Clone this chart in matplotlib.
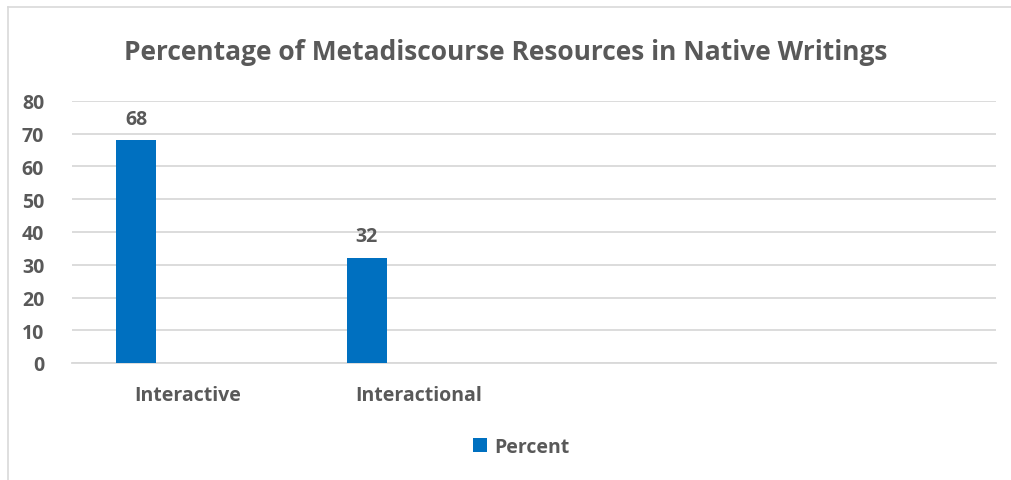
import matplotlib
matplotlib.use("Agg")
import matplotlib.pyplot as plt
from matplotlib.lines import Line2D
import numpy as np

# data
categories = ['Interactive', 'Interactional', '', '']
percent = [68, 32, np.nan, np.nan]
y_ticks = [0, 10, 20, 30, 40, 50, 60, 70, 80]

plt.rcParams['font.family'] = ['Open Sans', 'DejaVu Sans']
text_color = '#595959'
bar_color = '#0070C0'
grid_color = '#D9D9D9'
fs = 14

fig = plt.figure(figsize=(10.11, 4.81), dpi=100)
ax = fig.add_axes([72 / 1011, 117 / 481, 923.6 / 1011, 262 / 481])

x = np.arange(len(categories))
width = 0.173
offset = -0.223
bars = ax.bar(x + offset, percent, width, color=bar_color, label='Percent', zorder=3)

for xi, v in zip(x, percent):
    if not np.isnan(v):
        ax.text(xi + offset, v + 3.6, f'{v:.0f}', ha='center', va='bottom',
                fontsize=fs, fontweight='bold', color=text_color)

ax.set_xlim(-0.5, len(categories) - 0.5)
ax.set_ylim(0, 80)
ax.set_yticks(y_ticks)
ax.set_yticklabels([str(t) for t in y_ticks], fontsize=fs, fontweight='bold', color=text_color)
ax.set_xticks(x)
ax.set_xticklabels(categories, fontsize=fs, fontweight='bold', color=text_color)
ax.tick_params(axis='both', length=0)
ax.tick_params(axis='x', pad=16)
ax.tick_params(axis='y', pad=20)
ax.grid(axis='y', color=grid_color, linewidth=1.3, zorder=0)
for s in ['top', 'right', 'left']:
    ax.spines[s].set_visible(False)
ax.spines['bottom'].set_color(grid_color)
ax.spines['bottom'].set_linewidth(1.3)

fig.text(0.5, 1 - 52 / 481, 'Percentage of Metadiscourse Resources in Native Writings',
         ha='center', va='center', fontsize=19, fontweight='bold', color=text_color)

leg = fig.legend(handles=[bars], labels=['Percent'], loc='center',
                 bbox_to_anchor=(521 / 1011, 1 - 448 / 481), frameon=False,
                 prop={'size': fs, 'weight': 'bold'}, handlelength=0.75, handleheight=0.75,
                 handletextpad=0.35)
for t in leg.get_texts():
    t.set_color(text_color)

# chart border
fig.add_artist(Line2D([8 / 1011, 8 / 1011], [0, 1 - 8 / 481], color=grid_color, linewidth=1.2))
fig.add_artist(Line2D([8 / 1011, 1], [1 - 8 / 481, 1 - 8 / 481], color=grid_color, linewidth=1.2))

fig.savefig('out.png', dpi=100)
